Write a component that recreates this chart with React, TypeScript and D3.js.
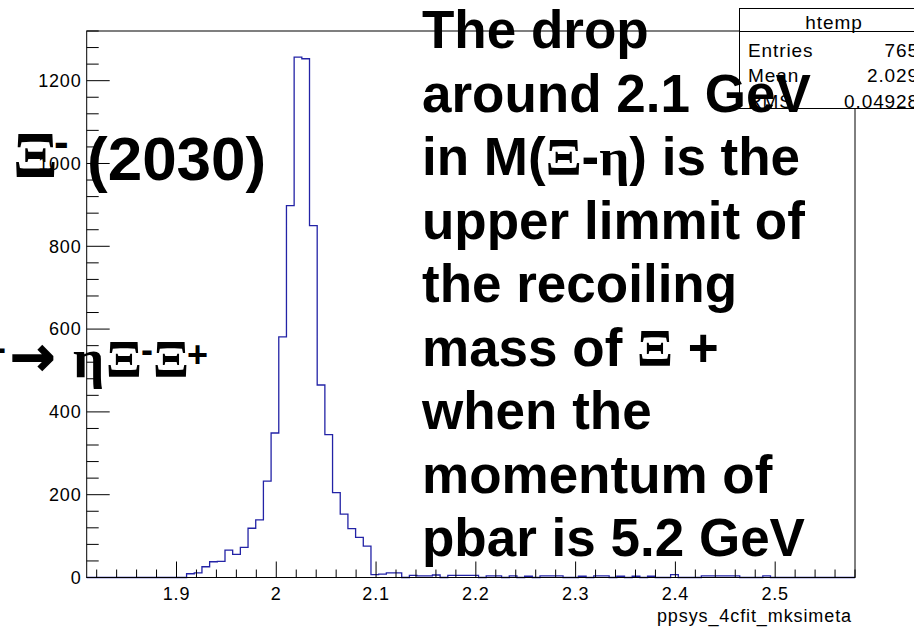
import React from "react";
import * as d3 from "d3";

// ---- data ----
const xRange = [1.81, 2.58];
const binCounts = [
  0, 0, 0, 0, 0, 0, 0, 0, 0, 0, 0, 0, 0, 9, 11, 26, 38, 39, 66, 56,
  73, 119, 139, 233, 349, 581, 898, 1257, 1253, 850, 465, 345, 205, 153, 118, 97, 76, 7, 8, 11,
  11, 0, 5, 4, 4, 6, 0, 5, 5, 5, 5, 0, 4, 4, 0, 4, 0, 3, 0, 4,
  4, 4, 0, 0, 3, 0, 4, 4, 0, 3, 0, 3, 0, 3, 0, 0, 7, 0, 0, 0,
  4, 4, 4, 4, 4, 0, 0, 0, 4, 0, 0, 0, 0, 0, 0, 0, 0, 0, 0, 0,
];
const yMax = 1320;
const xTickLabels = [1.9, 2.0, 2.1, 2.2, 2.3, 2.4, 2.5];
const xMinorStep = 0.02;
const yTickLabels = [0, 200, 400, 600, 800, 1000, 1200];
const yMinorStep = 40;
const xTitle = "ppsys_4cfit_mksimeta";
const statsTitle = "htemp";
const statsNames = ["Entries", "Mean", "RMS"];
const statsValues = ["765", "2.029", "0.04928"];
const noteLines = [
  "The drop",
  "around 2.1 GeV",
  "in M(Ξ-η) is the",
  "upper limmit of",
  "the recoiling",
  "mass of Ξ +",
  "when the",
  "momentum of",
  "pbar is 5.2 GeV",
];

const SANS = "'Liberation Sans', Arial, Helvetica, sans-serif";
const SERIF = "'Liberation Serif', 'Times New Roman', serif";

export default function App() {
  const W = 914, H = 634;
  const L = 86.7, R = 855, T = 31, B = 577.5;
  const x = d3.scaleLinear().domain(xRange).range([L, R]);
  const y = d3.scaleLinear().domain([0, yMax]).range([B, T]);

  const nb = binCounts.length;
  const bw = (xRange[1] - xRange[0]) / nb;
  const pts: [number, number][] = binCounts.map((v, i) => [xRange[0] + i * bw, v]);
  pts.push([xRange[1], binCounts[nb - 1]]);
  const line = d3
    .line<[number, number]>()
    .x((d) => x(d[0]))
    .y((d) => y(d[1]))
    .curve(d3.curveStepAfter);
  const histPath = line(pts) || "";

  const xMinor = d3.range(Math.ceil(xRange[0] / xMinorStep), Math.floor(xRange[1] / xMinorStep) + 1).map((k) => k * xMinorStep);
  const yMinor = d3.range(0, yMax + 0.1, yMinorStep);

  const renderNote = (s: string) =>
    s.split(/([Ξη])/).filter((p) => p.length > 0).map((p, i) =>
      p === "Ξ" || p === "η" ? (
        <tspan key={i} fontFamily={SERIF}>{p}</tspan>
      ) : (
        <tspan key={i}>{p}</tspan>
      )
    );

  return (
    <svg width={W} height={H} style={{ position: "absolute", left: 0, top: 0, background: "#fff" }}>
      <rect x={0} y={0} width={W} height={H} fill="#fff" />
      {/* histogram */}
      <path d={histPath} fill="none" stroke="#2323a6" strokeWidth={1.3} />
      {/* frame */}
      <rect x={L} y={T} width={R - L} height={B - T} fill="none" stroke="#000" strokeWidth={1} />
      {/* x ticks */}
      {xMinor.map((v, i) => {
        const major = xTickLabels.some((t) => Math.abs(t - v) < 1e-6);
        return <line key={"xm" + i} x1={x(v)} x2={x(v)} y1={B} y2={B - (major ? 16 : 8)} stroke="#000" strokeWidth={1} />;
      })}
      {xTickLabels.map((v) => (
        <text key={"xl" + v} x={x(v)} y={600} textAnchor="middle" fontFamily={SANS} fontSize={18} letterSpacing={0.8} fill="#000">
          {d3.format("")(v)}
        </text>
      ))}
      <text x={852} y={621.5} textAnchor="end" fontFamily={SANS} fontSize={18} letterSpacing={0.9} fill="#000">
        {xTitle}
      </text>
      {/* y ticks */}
      {yMinor.map((v, i) => {
        const major = yTickLabels.includes(v);
        return <line key={"ym" + i} x1={L} x2={L + (major ? 23 : 12)} y1={y(v)} y2={y(v)} stroke="#000" strokeWidth={1} />;
      })}
      {yTickLabels.map((v) => (
        <text key={"yl" + v} x={81.5} y={y(v) + 6.3} textAnchor="end" fontFamily={SANS} fontSize={18} letterSpacing={0.8} fill="#000">
          {v}
        </text>
      ))}
      {/* stats box */}
      <rect x={739.5} y={8.5} width={190} height={100} fill="#fff" stroke="#000" strokeWidth={1} />
      <line x1={739.5} x2={929.5} y1={31.5} y2={31.5} stroke="#000" strokeWidth={1} />
      <text x={834} y={28.5} textAnchor="middle" fontFamily={SANS} fontSize={19} letterSpacing={0.9} fill="#000">
        {statsTitle}
      </text>
      {statsNames.map((n, i) => (
        <g key={n}>
          <text x={748} y={56.5 + i * 25.5} fontFamily={SANS} fontSize={19} letterSpacing={0.9} fill="#000">
            {n}
          </text>
          <text x={919} y={56.5 + i * 25.5} textAnchor="end" fontFamily={SANS} fontSize={19} letterSpacing={0.9} fill="#000">
            {statsValues[i]}
          </text>
        </g>
      ))}
      {/* right note */}
      {noteLines.map((s, i) => (
        <text key={"n" + i} x={422} y={48 + i * 63.5} fontFamily={SANS} fontWeight="bold" fontSize={53} fill="#000">
          {renderNote(s)}
        </text>
      ))}
      {/* left annotation 1 */}
      <text x={13} y={177} fontFamily={SERIF} fontWeight="bold" fontSize={66} fill="#000">Ξ</text>
      <text x={54} y={157} fontFamily={SANS} fontWeight="bold" fontSize={44} fill="#000">-</text>
      <text x={87} y={180} fontFamily={SANS} fontWeight="bold" fontSize={62} fill="#000">(2030)</text>
      {/* left annotation 2 */}
      <text x={6} y={360} textAnchor="end" fontFamily={SANS} fontWeight="bold" fontSize={36} fill="#000">p-</text>
      <text x={10} y={375} fontFamily="'DejaVu Sans', sans-serif" fontWeight="bold" fontSize={54} fill="#000" stroke="#000" strokeWidth={1.5}>→</text>
      <text x={73} y={377} fontFamily={SERIF} fontWeight="bold" fontSize={55} fill="#000">η</text>
      <text x={106} y={377} fontFamily={SERIF} fontWeight="bold" fontSize={53} fill="#000">Ξ</text>
      <text x={141} y={362} fontFamily={SANS} fontWeight="bold" fontSize={36} fill="#000">-</text>
      <text x={153} y={377} fontFamily={SERIF} fontWeight="bold" fontSize={53} fill="#000">Ξ</text>
      <text x={187} y={367} fontFamily={SANS} fontWeight="bold" fontSize={36} fill="#000">+</text>
    </svg>
  );
}
